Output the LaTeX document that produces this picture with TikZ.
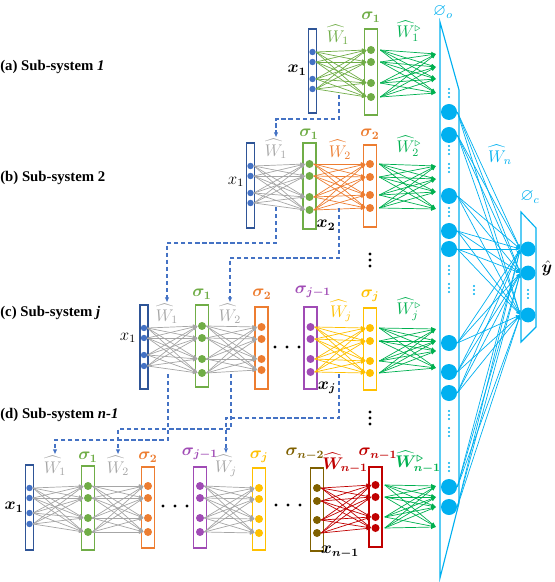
\documentclass[tikz,border=0pt]{standalone}
\usepackage{amsmath,amssymb,bm}
\usepackage{fontspec}
\setmainfont{Liberation Serif}
\usepackage{tikz}
\usetikzlibrary{positioning,arrows.meta,calc}

\definecolor{xnavy}{HTML}{2F5597}
\definecolor{xdot}{HTML}{4472C4}
\definecolor{sgreen}{HTML}{70AD47}
\definecolor{sorange}{HTML}{ED7D31}
\definecolor{spurple}{HTML}{A04BB5}
\definecolor{syellow}{HTML}{FFC000}
\definecolor{solive}{HTML}{7F6000}
\definecolor{sred}{HTML}{C00000}
\definecolor{ogreen}{HTML}{00B050}
\definecolor{lblue}{HTML}{00B0F0}
\definecolor{wgray}{HTML}{A6A6A6}
\definecolor{dblue}{HTML}{4472C4}

\tikzset{%
  lbox/.style  = { draw = #1, line width = 0.8pt },
  ibox/.style  = { draw = xnavy, line width = 0.8pt },
  dot/.style   = { circle, fill = #1, inner sep = 0pt, minimum size = 0.2cm },
  idot/.style  = { circle, fill = xdot, inner sep = 0pt, minimum size = 0.16cm },
  onode/.style = { circle, fill = lblue, inner sep = 0pt, minimum size = 0.4cm },
  fnode/.style = { circle, fill = lblue, inner sep = 0pt, minimum size = 0.37cm },
  wt/.style    = { -{Latex[length=1.2mm,width=1mm]}, draw = #1, line width = 0.5pt },
  ol/.style    = { -{Latex[length=1.1mm,width=0.9mm]}, draw = lblue, line width = 0.5pt },
  link/.style  = { -{Latex[length=1.3mm,width=1.1mm]}, draw = dblue, line width = 0.8pt,
                   dash pattern = on 3pt off 2pt },
  lab/.style   = { text = #1, inner sep = 1pt, font = \large },
  sub/.style   = { anchor = west, inner sep = 0pt, font = \fontsize{10.5}{12}\selectfont\bfseries },
  vdts/.pic    = { \foreach \d in {-4,0,4} \fill (0,\d) circle (0.8pt); },
  bigv/.pic    = { \foreach \d in {-6,0,6} \fill (0,\d) circle (1.2pt); },
  bigh/.pic    = { \foreach \d in {-12,0,12} \fill (\d,0) circle (1.2pt); }
}

\newcommand\inlayer[5]{%
  \draw[ibox] ({#2-4},#3) rectangle ({#2+4},#4);
  \foreach \yy [count=\k] in {#5} \node(#1-\k) [idot] at (#2,\yy) {};
}
\newcommand\layer[6]{%
  \draw[lbox=#5] ({#2-6.5},#3) rectangle ({#2+6.5},#4);
  \foreach \yy [count=\k] in {#6} \node(#1-\k) [dot=#5] at (#2,\yy) {};
}
\newcommand\bundle[3]{%
  \foreach \i in {1,...,4} \foreach \k in {1,...,4}
    \draw[wt=#3] (#1-\i.east) -- (#2-\k.west);
}
\newcommand\outbundle[3]{%
  \foreach \yy [count=\k] in {#3} \coordinate (#2-\k) at (436,\yy);
  \foreach \i in {1,...,4} \foreach \k in {1,...,4}
    \draw[wt=ogreen] (#1-\i.east) ++(5,0) -- (#2-\k);
}

\begin{document}
\begin{tikzpicture}[x=0.025cm, y=-0.025cm]
\useasboundingbox (0,0) rectangle (554,582);

% (a) sub-system 1
\node(la) [sub] at (0,67) {(a) Sub-system \textit{1}};
\inlayer{ax}{312.5}{29}{113}{52,62,79,89}
\layer{as1}{371}{29}{115}{sgreen}{50,62,83,97}
\bundle{ax}{as1}{sgreen}
\outbundle{as1}{ta}{54,67,79,93}
\node(axl) [lab=black]   at (297,70)  {$\bm{x_1}$};
\node(wa1) [lab=sgreen]  at (338,35)  {$\widehat{W}_1$};
\node(sa1) [lab=sgreen]  at (371,17)  {$\bm{\sigma_1}$};
\node(woa) [lab=ogreen]  at (409,31)  {$\widehat{W}_1^{\triangleright}$};

% (b) sub-system 2
\node(lb) [sub] at (0,178) {(b) Sub-system 2};
\inlayer{bx}{250.5}{143}{228}{166,176,193,203}
\layer{bs1}{309.5}{143}{229}{sgreen}{164,176,197,210}
\layer{bs2}{370}{145}{227}{sorange}{164,177,195,208}
\bundle{bx}{bs1}{wgray}
\bundle{bs1}{bs2}{sorange}
\outbundle{bs2}{tb}{166,179,192,209}
\node(bxl) [lab=black]   at (236,182)  {$x_1$};
\node(wb1) [lab=wgray]   at (276,149)  {$\widehat{W}_1$};
\node(sb1) [lab=sgreen]  at (309,134)  {$\bm{\sigma_1}$};
\node(wb2) [lab=sorange] at (340,150)  {$\widehat{W}_2$};
\node(sb2) [lab=sorange] at (370,134)  {$\bm{\sigma_2}$};
\node(bx2) [lab=black]   at (326,225)  {$\bm{x_2}$};
\node(wob) [lab=ogreen]  at (409,146)  {$\widehat{W}_2^{\triangleright}$};
\pic at (370,260) {bigv};

% (c) sub-system j
\node(lc) [sub] at (0,313) {(c) Sub-system \textit{j}};
\inlayer{cx}{144}{305}{389}{328,338,355,366}
\layer{cs1}{202}{305}{387}{sgreen}{326,338,359,373}
\layer{cs2}{261.5}{307}{389}{sorange}{327,339,359,370}
\layer{csj1}{310.5}{307}{389}{spurple}{327,339,359,372}
\layer{csj}{370}{308}{390}{syellow}{328,341,361,373}
\bundle{cx}{cs1}{wgray}
\bundle{cs1}{cs2}{wgray}
\bundle{csj1}{csj}{syellow}
\outbundle{csj}{tc}{329,341,351,368}
\node(cxl) [lab=black]    at (128,338)  {$x_1$};
\node(wc1) [lab=wgray]    at (167,314)  {$\widehat{W}_1$};
\node(sc1) [lab=sgreen]   at (202,294)  {$\bm{\sigma_1}$};
\node(wc2) [lab=wgray]    at (230,314)  {$\widehat{W}_2$};
\node(sc2) [lab=sorange]  at (262,294)  {$\bm{\sigma_2}$};
\node(scj1) [lab=spurple] at (313,292)  {$\bm{\sigma_{j-1}}$};
\node(wcj) [lab=syellow]  at (341,311)  {$\widehat{W}_j$};
\node(scj) [lab=syellow]  at (370,296)  {$\bm{\sigma_j}$};
\node(cxj) [lab=black]    at (327,388)  {$\bm{x_j}$};
\node(woc) [lab=ogreen]   at (409,309)  {$\widehat{W}_j^{\triangleright}$};
\pic at (287,347) {bigh};
\pic at (370,418) {bigv};

% (d) sub-system n-1
\node(ld) [sub] at (0,415) {(d) Sub-system \textit{n-1}};
\inlayer{dx}{29.5}{465}{550}{488,498,513,524}
\layer{ds1}{88}{466}{550}{sgreen}{486,498,518,532}
\layer{ds2}{148}{467}{548}{sorange}{486,498,518,532}
\layer{dsj1}{200}{467}{548}{spurple}{486,498,518,532}
\layer{dsj}{259}{468}{550}{syellow}{488,499,519,533}
\layer{dsn2}{317}{468}{551}{solive}{488,501,520,533}
\layer{dsn1}{375.5}{467}{547}{sred}{485,497,517,528}
\bundle{dx}{ds1}{wgray}
\bundle{ds1}{ds2}{wgray}
\bundle{dsj1}{dsj}{wgray}
\bundle{dsn2}{dsn1}{sred}
\outbundle{dsn1}{td}{486,497,507,527}
\node(dxl) [lab=black]    at (14,507)   {$\bm{x_1}$};
\node(wd1) [lab=wgray]    at (55,466)   {$\widehat{W}_1$};
\node(sd1) [lab=sgreen]   at (88,457)   {$\bm{\sigma_1}$};
\node(wd2) [lab=wgray]    at (118,466)  {$\widehat{W}_2$};
\node(sd2) [lab=sorange]  at (148,457)  {$\bm{\sigma_2}$};
\node(sdj1) [lab=spurple] at (200,454)  {$\bm{\sigma_{j-1}}$};
\node(wdj) [lab=wgray]    at (226,466)  {$\widehat{W}_j$};
\node(sdj) [lab=syellow]  at (259,457)  {$\bm{\sigma_j}$};
\node(sdn2) [lab=solive]  at (305,454)  {$\bm{\sigma_{n-2}}$};
\node(wdn) [lab=sred]     at (345,463)  {$\bm{\widehat{W}_{n-1}}$};
\node(sdn1) [lab=sred]    at (378,454)  {$\bm{\sigma_{n-1}}$};
\node(dxn) [lab=black]    at (340,552)  {$\bm{x_{n-1}}$};
\node(wod) [lab=ogreen]   at (418,462)  {$\bm{\widehat{W}_{n-1}^{\triangleright}}$};
\pic at (175,506) {bigh};
\pic at (288,505) {bigh};

% weight hand-over
\coordinate (da)  at (339,95);
\coordinate (db1) at (276,207);
\coordinate (db2) at (339,208);
\coordinate (dc1) at (168,374);
\coordinate (dc2) at (231,374);
\coordinate (dcj) at (339,374);
\draw[link] (da)  -- ++(0,24) -| (wb1.north);
\draw[link] (db1) -- ++(0,36) -| (wc1.north);
\draw[link] (db2) -- ++(0,50) -| (wc2.north);
\draw[link] (dc1) -- ++(0,66) -| (wd1.north);
\draw[link] (dc2) -- ++(0,55) -| (wd2.north);
\draw[link] (dcj) -- ++(0,44) -| (wdj.north);

% output and combining layers
\draw[lbox=lblue] (440,22) -- (459,90) -- (459,503) -- (440,578) -- cycle;
\foreach \yy [count=\k] in {112,135,196,231,249,343,372,393,487,507}
  \node(o-\k) [onode] at (449,\yy) {};
\foreach \yy in {93,150,168,212,270,288,415,432,467}
  \pic[lblue] at (449,\yy) {vdts};
\draw[lbox=lblue] (521,212) -- (536,228) -- (536,327) -- (521,342) -- cycle;
\foreach \yy [count=\k] in {249,273,315}
  \node(f-\k) [fnode] at (528,\yy) {};
\pic[lblue] at (528,294) {vdts};
\pic[lblue] at (474,290) {vdts};
\foreach \i in {1,...,10} \foreach \k in {1,2,3}
  \draw[ol] (o-\i.east) -- (f-\k.west);
\node(po) [lab=lblue] at (443,12)  {$\varnothing_o$};
\node(wn) [lab=lblue] at (500,155) {$\widehat{W}_n$};
\node(pc) [lab=lblue] at (530,197) {$\varnothing_c$};
\node(yh) [lab=black] at (547,268) {$\bm{\hat{y}}$};
\end{tikzpicture}
\end{document}
